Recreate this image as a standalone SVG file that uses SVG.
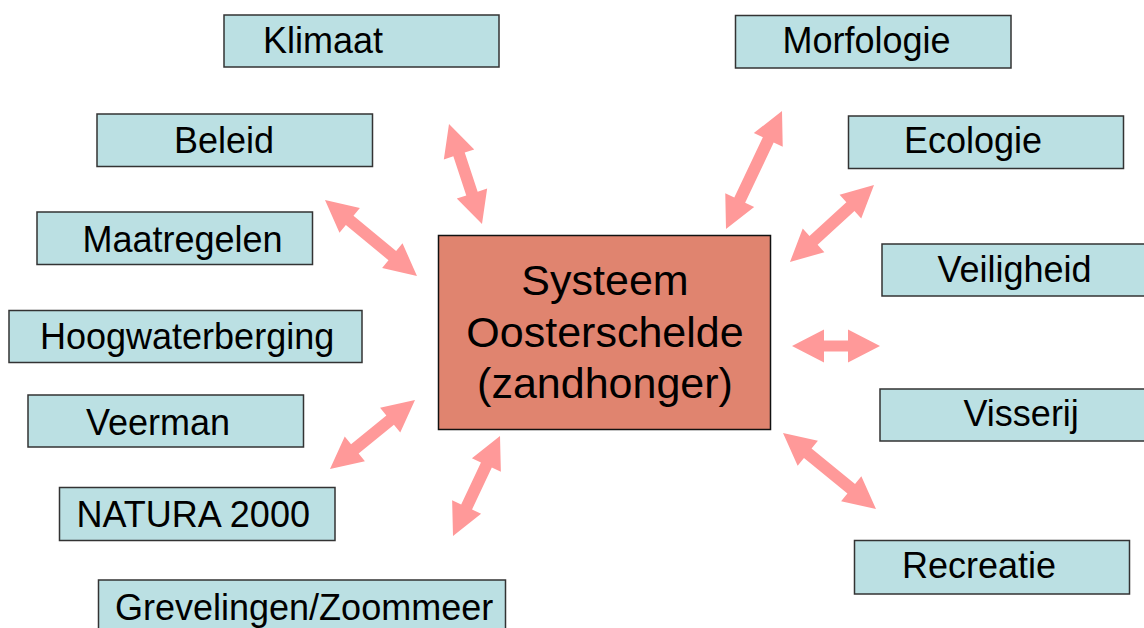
<svg xmlns="http://www.w3.org/2000/svg" width="1144" height="628" viewBox="0 0 1144 628">
  <style>
    .box { fill: #bbe0e3; stroke: #333333; stroke-width: 1.5; }
    .core { fill: #e0846f; stroke: #111111; stroke-width: 1.5; }
    .lbl { font-family: "Liberation Sans", Arial, sans-serif; font-size: 36px; fill: #000000; }
    .core-lbl { font-family: "Liberation Sans", Arial, sans-serif; font-size: 43px; fill: #000000; text-anchor: middle; }
    .arrow { fill: #ff9999; stroke: none; }
  </style>
  <rect width="1144" height="628" fill="#ffffff"/>

  <!-- double-headed block arrows: drawn along the x axis from tip to tip, then placed -->
  <g id="connectors">
    <path class="arrow" transform="translate(449,124) rotate(71.74)" d="M0,0 L32,-16 L32,-6 L73.3,-6 L73.3,-16 L105.3,0 L73.3,16 L73.3,6 L32,6 L32,16 Z"/>
    <path class="arrow" transform="translate(325,200) rotate(39.56)" d="M0,0 L32,-16 L32,-6 L87.3,-6 L87.3,-16 L119.3,0 L87.3,16 L87.3,6 L32,6 L32,16 Z"/>
    <path class="arrow" transform="translate(782,111) rotate(115.39)" d="M0,0 L32,-16 L32,-6 L98.6,-6 L98.6,-16 L130.6,0 L98.6,16 L98.6,6 L32,6 L32,16 Z"/>
    <path class="arrow" transform="translate(874,185) rotate(137.49)" d="M0,0 L32,-16 L32,-6 L82,-6 L82,-16 L114,0 L82,16 L82,6 L32,6 L32,16 Z"/>
    <path class="arrow" transform="translate(792,346)" d="M0,0 L32,-16.5 L32,-5.5 L56,-5.5 L56,-16.5 L88,0 L56,16.5 L56,5.5 L32,5.5 L32,16.5 Z"/>
    <path class="arrow" transform="translate(783,433) rotate(39.26)" d="M0,0 L32,-16 L32,-6 L88.1,-6 L88.1,-16 L120.1,0 L88.1,16 L88.1,6 L32,6 L32,16 Z"/>
    <path class="arrow" transform="translate(415,400) rotate(140.93)" d="M0,0 L32,-16 L32,-6 L77.5,-6 L77.5,-16 L109.5,0 L77.5,16 L77.5,6 L32,6 L32,16 Z"/>
    <path class="arrow" transform="translate(500,436) rotate(115.17)" d="M0,0 L32,-16 L32,-6 L78.5,-6 L78.5,-16 L110.5,0 L78.5,16 L78.5,6 L32,6 L32,16 Z"/>
  </g>

  <g id="systeem">
    <rect class="core" x="438.5" y="235.5" width="332" height="194"/>
    <text class="core-lbl" x="605" y="295">Systeem</text>
    <text class="core-lbl" x="605" y="346.5">Oosterschelde</text>
    <text class="core-lbl" x="605" y="398">(zandhonger)</text>
  </g>

  <g id="klimaat">
    <rect class="box" x="224" y="15" width="275" height="52"/>
    <text class="lbl" x="263" y="53">Klimaat</text>
  </g>
  <g id="beleid">
    <rect class="box" x="97" y="114" width="275.5" height="52.5"/>
    <text class="lbl" x="174" y="153">Beleid</text>
  </g>
  <g id="maatregelen">
    <rect class="box" x="37" y="212" width="275.5" height="52.5"/>
    <text class="lbl" x="82.5" y="251.5">Maatregelen</text>
  </g>
  <g id="hoogwaterberging">
    <rect class="box" x="9" y="310.5" width="353" height="52"/>
    <text class="lbl" x="40" y="349">Hoogwaterberging</text>
  </g>
  <g id="veerman">
    <rect class="box" x="28" y="395" width="275.5" height="52"/>
    <text class="lbl" x="86" y="434.5">Veerman</text>
  </g>
  <g id="natura2000">
    <rect class="box" x="59.5" y="487.5" width="275.5" height="53"/>
    <text class="lbl" x="76.5" y="526.5">NATURA 2000</text>
  </g>
  <g id="grevelingen">
    <rect class="box" x="98.5" y="580" width="407" height="60"/>
    <text class="lbl" x="115" y="620">Grevelingen/Zoommeer</text>
  </g>

  <g id="morfologie">
    <rect class="box" x="735.5" y="15.5" width="275.5" height="52.5"/>
    <text class="lbl" x="782.5" y="53">Morfologie</text>
  </g>
  <g id="ecologie">
    <rect class="box" x="848.5" y="116" width="275" height="52.5"/>
    <text class="lbl" x="904" y="152.5">Ecologie</text>
  </g>
  <g id="veiligheid">
    <rect class="box" x="882" y="244" width="275" height="52"/>
    <text class="lbl" x="937.5" y="282">Veiligheid</text>
  </g>
  <g id="visserij">
    <rect class="box" x="880" y="389" width="275" height="52"/>
    <text class="lbl" x="963.5" y="426">Visserij</text>
  </g>
  <g id="recreatie">
    <rect class="box" x="854.5" y="540.5" width="275" height="53.5"/>
    <text class="lbl" x="902" y="578">Recreatie</text>
  </g>
</svg>
